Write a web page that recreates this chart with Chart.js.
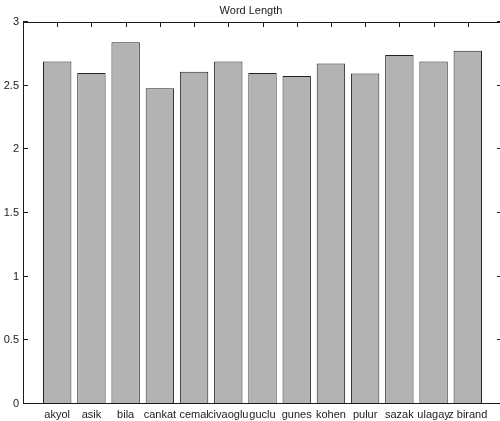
<!DOCTYPE html>
<html>
<head>
<meta charset="utf-8">
<script src="https://cdn.jsdelivr.net/npm/chart.js@4/dist/chart.umd.min.js"></script>
<style>
  html, body { margin: 0; padding: 0; background: #fff; overflow: hidden; width: 500px; height: 421px; }
  #wrap { width: 502px; height: 421px; }
</style>
</head>
<body>
<div id="wrap"><canvas id="c" width="502" height="421"></canvas></div>
<script>
// Average word length per columnist
const authors = ['akyol', 'asik', 'bila', 'cankat', 'cemal', 'civaoglu', 'guclu',
                 'gunes', 'kohen', 'pulur', 'sazak', 'ulagay', 'z birand'];
const wordLength = [2.69, 2.60, 2.84, 2.48, 2.61, 2.69, 2.60,
                    2.575, 2.675, 2.595, 2.74, 2.69, 2.775];
const yTickValues = [0, 0.5, 1, 1.5, 2, 2.5, 3];

const FONT = '"Liberation Sans", Arial, sans-serif';
const INK = '#1a1a1a';

// Axes box with inward tick marks on all four sides
const axesFrame = {
  id: 'axesFrame',
  beforeDatasetsDraw(chart) {
    const { ctx, chartArea: a, scales: { x, y } } = chart;
    const len = 5;
    ctx.save();
    ctx.strokeStyle = INK;
    ctx.lineWidth = 1;
    ctx.beginPath();
    yTickValues.forEach(v => {
      const py = Math.round(y.getPixelForValue(v)) - 0.5;
      ctx.moveTo(a.left, py); ctx.lineTo(a.left + len, py);
      ctx.moveTo(a.right, py); ctx.lineTo(a.right - len, py);
    });
    authors.forEach((_, i) => {
      const px = Math.round(x.getPixelForValue(i + 1)) + 0.5;
      ctx.moveTo(px, a.top); ctx.lineTo(px, a.top + len);
      ctx.moveTo(px, a.bottom); ctx.lineTo(px, a.bottom - len);
    });
    ctx.stroke();
    ctx.restore();
  },
  afterDatasetsDraw(chart) {
    const { ctx, chartArea: a } = chart;
    ctx.save();
    ctx.strokeStyle = INK;
    ctx.lineWidth = 1;
    ctx.strokeRect(a.left + 0.5, a.top + 0.5, a.right - a.left - 1, a.bottom - a.top - 1);
    ctx.restore();
  }
};

new Chart(document.getElementById('c'), {
  type: 'bar',
  data: {
    datasets: [{
      data: authors.map((_, i) => ({ x: i + 1, y: wordLength[i] })),
      backgroundColor: '#b3b3b3',
      borderColor: '#222222',
      borderWidth: 1,
      categoryPercentage: 1,
      barPercentage: 0.83
    }]
  },
  options: {
    responsive: false,
    animation: false,
    layout: { padding: { left: 0, right: 0, top: 0, bottom: 0 } },
    plugins: {
      legend: { display: false },
      tooltip: { enabled: false },
      title: {
        display: true,
        text: 'Word Length',
        color: INK,
        font: { family: FONT, size: 11, weight: 'normal', lineHeight: 1.2 },
        padding: { top: 4, bottom: 4.8 }
      }
    },
    scales: {
      x: {
        type: 'linear',
        min: 0,
        max: 14,
        offset: false,
        grid: { display: false, drawTicks: false, offset: false },
        border: { display: false },
        afterBuildTicks(scale) {
          scale.ticks = authors.map((_, i) => ({ value: i + 1 }));
        },
        afterFit(scale) { scale.height = 17; },
        ticks: {
          autoSkip: false,
          maxRotation: 0,
          padding: 4,
          color: INK,
          font: { family: FONT, size: 11 },
          callback: v => authors[v - 1] ?? ''
        }
      },
      y: {
        min: 0,
        max: 3,
        grid: { display: false, drawTicks: false },
        border: { display: false },
        afterBuildTicks(scale) {
          scale.ticks = yTickValues.map(v => ({ value: v }));
        },
        afterFit(scale) { scale.width = 23; },
        ticks: {
          padding: 4,
          color: INK,
          font: { family: FONT, size: 11 },
          callback: v => String(v)
        }
      }
    }
  },
  plugins: [axesFrame]
});
</script>
</body>
</html>
